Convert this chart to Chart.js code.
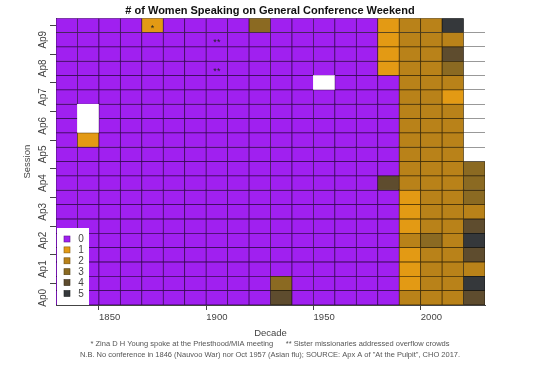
<!DOCTYPE html>
<html>
<head>
<meta charset="utf-8">
<script src="https://cdn.jsdelivr.net/npm/chart.js@4/dist/chart.umd.min.js"></script>
<style>
  html, body { margin: 0; padding: 0; background: #fff; }
</style>
</head>
<body>
<canvas id="heatChart" width="540" height="375"></canvas>
<script>

// DATA ################################################################

var decades = [1830, 1840, 1850, 1860, 1870, 1880, 1890, 1900, 1910, 1920,
               1930, 1940, 1950, 1960, 1970, 1980, 1990, 2000, 2010, 2020];

// rows from bottom to top: April / October of each year in the decade
var sessions = ["Ap0", "Oc0", "Ap1", "Oc1", "Ap2", "Oc2", "Ap3", "Oc3", "Ap4", "Oc4",
                "Ap5", "Oc5", "Ap6", "Oc6", "Ap7", "Oc7", "Ap8", "Oc8", "Ap9", "Oc9"];

// women speaking per session, one list per decade (null = no conference)
var w1830 = [0, 0, 0, 0, 0, 0, 0, 0, 0, 0, 0, 0, 0, 0, 0, 0, 0, 0, 0, 0];
var w1840 = [0, 0, 0, 0, 0, 0, 0, 0, 0, 0, 0, 1, null, null, 0, 0, 0, 0, 0, 0];
var w1850 = [0, 0, 0, 0, 0, 0, 0, 0, 0, 0, 0, 0, 0, 0, 0, 0, 0, 0, 0, 0];
var w1860 = [0, 0, 0, 0, 0, 0, 0, 0, 0, 0, 0, 0, 0, 0, 0, 0, 0, 0, 0, 0];
var w1870 = [0, 0, 0, 0, 0, 0, 0, 0, 0, 0, 0, 0, 0, 0, 0, 0, 0, 0, 0, 1];
var w1880 = [0, 0, 0, 0, 0, 0, 0, 0, 0, 0, 0, 0, 0, 0, 0, 0, 0, 0, 0, 0];
var w1890 = [0, 0, 0, 0, 0, 0, 0, 0, 0, 0, 0, 0, 0, 0, 0, 0, 0, 0, 0, 0];
var w1900 = [0, 0, 0, 0, 0, 0, 0, 0, 0, 0, 0, 0, 0, 0, 0, 0, 0, 0, 0, 0];
var w1910 = [0, 0, 0, 0, 0, 0, 0, 0, 0, 0, 0, 0, 0, 0, 0, 0, 0, 0, 0, 0];
var w1920 = [0, 0, 0, 0, 0, 0, 0, 0, 0, 0, 0, 0, 0, 0, 0, 0, 0, 0, 0, 3];
var w1930 = [4, 3, 0, 0, 0, 0, 0, 0, 0, 0, 0, 0, 0, 0, 0, 0, 0, 0, 0, 0];
var w1940 = [0, 0, 0, 0, 0, 0, 0, 0, 0, 0, 0, 0, 0, 0, 0, 0, 0, 0, 0, 0];
var w1950 = [0, 0, 0, 0, 0, 0, 0, 0, 0, 0, 0, 0, 0, 0, 0, null, 0, 0, 0, 0];
var w1960 = [0, 0, 0, 0, 0, 0, 0, 0, 0, 0, 0, 0, 0, 0, 0, 0, 0, 0, 0, 0];
var w1970 = [0, 0, 0, 0, 0, 0, 0, 0, 0, 0, 0, 0, 0, 0, 0, 0, 0, 0, 0, 0];
var w1980 = [0, 0, 0, 0, 0, 0, 0, 0, 4, 0, 0, 0, 0, 0, 0, 0, 1, 1, 1, 1];
var w1990 = [2, 1, 1, 1, 2, 1, 1, 1, 2, 2, 2, 2, 2, 2, 2, 2, 2, 2, 2, 2];
var w2000 = [2, 2, 2, 2, 3, 2, 2, 2, 2, 2, 2, 2, 2, 2, 2, 2, 2, 2, 2, 2];
var w2010 = [2, 2, 2, 2, 2, 2, 2, 2, 2, 2, 2, 2, 2, 2, 1, 2, 3, 4, 2, 5];
var w2020 = [4, 5, 2, 4, 5, 4, 2, 3, 3, 3];

var womenByDecade = [w1830, w1840, w1850, w1860, w1870, w1880, w1890, w1900, w1910, w1920,
                     w1930, w1940, w1950, w1960, w1970, w1980, w1990, w2000, w2010, w2020];

var countLabels = ["0", "1", "2", "3", "4", "5"];
var countColors = ["#A020F0", "#E39A14", "#B98219", "#8B6A22", "#5E4C2E", "#35383B"];

var xTickLabels = ["1850", "1900", "1950", "2000"];

var noteDecades = [1870, 1900, 1900];
var noteSessions = ["Oc9", "Ap9", "Ap8"];
var noteMarks = ["*", "**", "**"];

var footnotes = [
    "* Zina D H Young spoke at the Priesthood/MIA meeting      ** Sister missionaries addressed overflow crowds",
    "N.B. No conference in 1846 (Nauvoo War) nor Oct 1957 (Asian flu); SOURCE: Apx A of \"At the Pulpit\", CHO 2017."
];


// HELPERS ################################################################

function darken(hex, f) {
    var n = parseInt(hex.slice(1), 16);
    var r = Math.round(((n >> 16) & 255) * f);
    var g = Math.round(((n >> 8) & 255) * f);
    var b = Math.round((n & 255) * f);
    return "rgb(" + r + "," + g + "," + b + ")";
}

var FONT = '"Liberation Sans", Arial, sans-serif';
Chart.defaults.font.family = FONT;


// HEATMAP ################################################################

// one floating-bar dataset per session row
var datasets = sessions.map(function (s, si) {
    var vals = womenByDecade.map(function (arr) { return arr[si]; });
    return {
        label: s,
        data: vals.map(function (v) { return v === undefined ? null : [si, si + 1]; }),
        backgroundColor: vals.map(function (v) {
            return (v === null || v === undefined) ? "#ffffff" : countColors[v];
        }),
        borderColor: vals.map(function (v) {
            return (v === null || v === undefined) ? "#ffffff" : darken(countColors[v], 0.35);
        }),
        borderWidth: vals.map(function (v) {
            return (v === null || v === undefined) ? 0 : 0.75;
        }),
        borderSkipped: false,
        barPercentage: 1,
        categoryPercentage: 1,
        grouped: false
    };
});

var extras = {
    id: "extras",
    afterDatasetsDraw: function (chart) {
        var ctx = chart.ctx;
        var xs = chart.scales.x, ys = chart.scales.y, area = chart.chartArea;
        ctx.save();

        // * and ** marks
        ctx.fillStyle = "#222";
        ctx.font = "9px " + FONT;
        ctx.textAlign = "center";
        ctx.textBaseline = "middle";
        noteMarks.forEach(function (m, i) {
            var xi = decades.indexOf(noteDecades[i]);
            var si = sessions.indexOf(noteSessions[i]);
            ctx.fillText(m, xs.getPixelForValue(xi), ys.getPixelForValue(si + 0.5) + 3);
        });

        // legend box, bottom left inside the plot
        var rowH = 10.9;
        var top = area.bottom - (countLabels.length * rowH + 11.6);
        ctx.fillStyle = "#ffffff";
        ctx.fillRect(area.left + 1, top, 32, area.bottom - top);
        ctx.font = "10px " + FONT;
        countLabels.forEach(function (lab, i) {
            var cy = top + 11 + i * rowH;
            ctx.fillStyle = countColors[i];
            ctx.fillRect(area.left + 8, cy - 3, 6, 6);
            ctx.strokeStyle = darken(countColors[i], 0.6);
            ctx.lineWidth = 0.6;
            ctx.strokeRect(area.left + 8, cy - 3, 6, 6);
            ctx.fillStyle = "#444";
            ctx.fillText(lab, area.left + 25, cy + 0.5);
        });
        ctx.restore();
    },
    afterDraw: function (chart) {
        // vertical session labels (only April rows carry text)
        var ctx = chart.ctx, ys = chart.scales.y;
        ctx.save();
        ctx.fillStyle = "#444";
        ctx.font = "10px " + FONT;
        ctx.textAlign = "center";
        ctx.textBaseline = "middle";
        sessions.forEach(function (s, si) {
            if (s.indexOf("Ap") !== 0) return;
            ctx.save();
            ctx.translate(43.5, ys.getPixelForValue(si + 0.5));
            ctx.rotate(-Math.PI / 2);
            ctx.fillText(s, 0, 0);
            ctx.restore();
        });
        ctx.restore();
    }
};

var myHeatChart = new Chart(document.getElementById("heatChart"), {
    type: "bar",
    data: {
        labels: decades.map(String),
        datasets: datasets
    },
    plugins: [extras],
    options: {
        responsive: false,
        animation: false,
        devicePixelRatio: 1,
        layout: { padding: 0 },
        plugins: {
            legend: { display: false },
            tooltip: { enabled: false },
            title: {
                display: true,
                text: "# of Women Speaking on General Conference Weekend",
                color: "#111",
                font: { size: 11, weight: "bold" },
                padding: { top: 4, bottom: 1 }
            },
            subtitle: {
                display: true,
                position: "bottom",
                text: footnotes,
                color: "#555",
                font: { size: 7.5, lineHeight: 11 / 7.5 },
                padding: { top: 0, bottom: 14.5 }
            }
        },
        scales: {
            x: {
                type: "category",
                offset: true,
                z: 1,
                grid: {
                    drawOnChartArea: false,
                    tickLength: 5,
                    tickColor: function (c) {
                        return xTickLabels.indexOf(String(decades[c.index])) >= 0 ? "#444" : "rgba(0,0,0,0)";
                    }
                },
                border: { display: true, color: "#444", width: 1 },
                ticks: {
                    autoSkip: false,
                    maxRotation: 0,
                    color: "#444",
                    padding: 2,
                    font: { size: 9.5 },
                    callback: function (val) {
                        var lab = this.getLabelForValue(val);
                        return xTickLabels.indexOf(lab) >= 0 ? lab : "";
                    }
                },
                title: {
                    display: true,
                    text: "Decade",
                    color: "#444",
                    font: { size: 9.5, lineHeight: 1 },
                    padding: { top: 2, bottom: 0 }
                },
                afterFit: function (scale) { scale.height = 33.5; }
            },
            y: {
                type: "linear",
                position: "left",
                min: 0,
                max: sessions.length,
                z: 1,
                afterBuildTicks: function (scale) {
                    var t = [];
                    for (var i = 0; i < sessions.length; i++) t.push({ value: i + 0.5 });
                    scale.ticks = t;
                },
                grid: {
                    drawOnChartArea: false,
                    tickLength: 6,
                    tickColor: function (c) {
                        var s = sessions[Math.floor(c.tick.value)];
                        return s && s.indexOf("Oc") === 0 ? "#444" : "rgba(0,0,0,0)";
                    }
                },
                border: { display: true, color: "#444", width: 1 },
                ticks: { autoSkip: false, callback: function () { return ""; } },
                title: {
                    display: true,
                    text: "Session",
                    color: "#444",
                    font: { size: 9.5 },
                    padding: { top: 22, bottom: 0 }
                },
                afterFit: function (scale) { scale.width = 56; }
            },
            rows: {
                type: "linear",
                position: "right",
                min: 0,
                max: sessions.length,
                afterBuildTicks: function (scale) {
                    var t = [];
                    for (var i = 0; i <= sessions.length; i++) t.push({ value: i });
                    scale.ticks = t;
                },
                grid: {
                    drawTicks: false,
                    color: function (c) {
                        var v = c.tick.value;
                        return (v > 0 && v < sessions.length) ? "rgba(0,0,0,0.4)" : "rgba(0,0,0,0)";
                    }
                },
                border: { display: false },
                ticks: { display: false },
                afterFit: function (scale) { scale.width = 55; }
            }
        }
    }
});
</script>
</body>
</html>
